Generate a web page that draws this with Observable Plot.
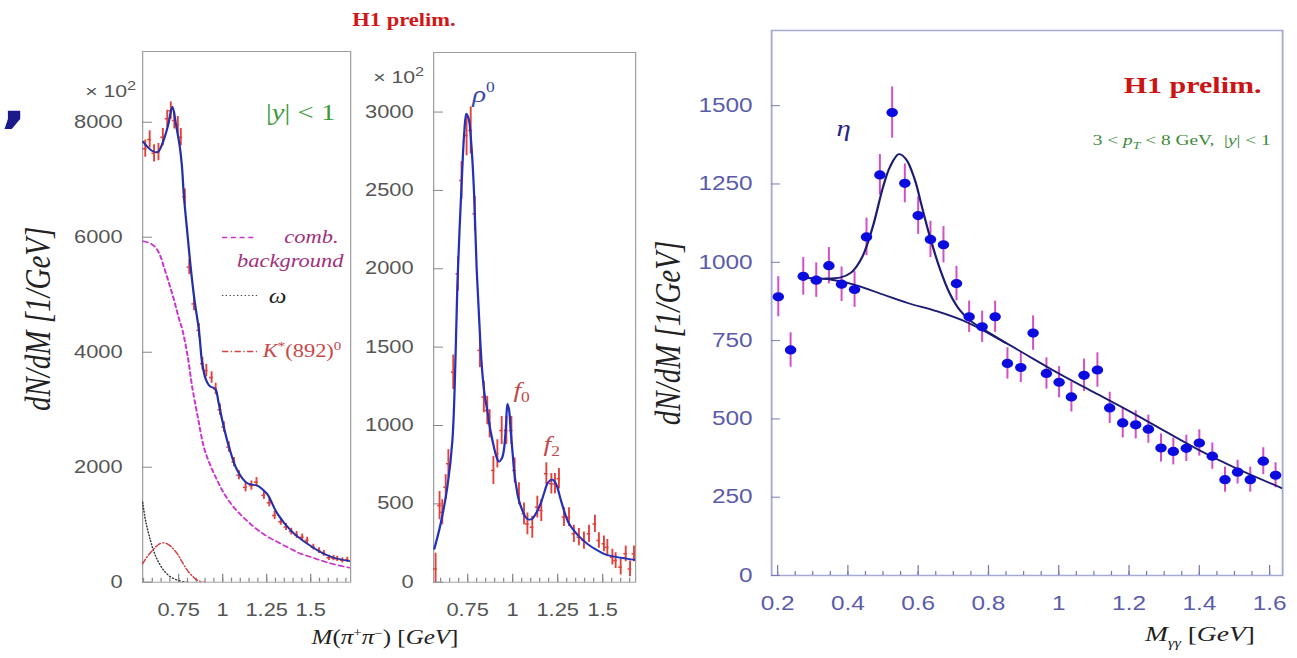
<!DOCTYPE html>
<html><head><meta charset="utf-8">
<script src="https://cdn.jsdelivr.net/npm/d3@7"></script>
<script src="https://cdn.jsdelivr.net/npm/@observablehq/plot@0.6"></script>
<style>
html,body{margin:0;padding:0;background:#fff;overflow:hidden;width:1297px;height:658px;}
#stage{position:absolute;left:0;top:0;width:1037.6px;height:658px;transform:scaleX(1.25);transform-origin:0 0;}
.panel{position:absolute;top:0;}
.ttl{position:absolute;white-space:nowrap;font-family:"Liberation Serif","Times New Roman",serif;line-height:1;}
</style></head>
<body><div id="stage"></div>
<script>
// ---------------- Panel 1 : M(pi+pi-) full spectrum ----------------
const p1XTicks = [0.75, 1, 1.25, 1.5];
const p1YTicks = [0, 2000, 4000, 6000, 8000];
const p1X = [0.56, 0.585, 0.61, 0.635, 0.66, 0.685, 0.705, 0.725, 0.745, 0.762, 0.785, 0.81, 0.837, 0.865, 0.885, 0.907, 0.937, 0.96, 0.985, 1.007, 1.035, 1.064, 1.092, 1.13, 1.163, 1.192, 1.234, 1.265, 1.295, 1.33, 1.36, 1.39, 1.42, 1.452, 1.48, 1.515, 1.547, 1.575, 1.604, 1.63, 1.651, 1.68, 1.708];
const p1Y = [7540, 7700, 7460, 7480, 7740, 8060, 8200, 8030, 7950, 7740, 6700, 5480, 4840, 4380, 3800, 3680, 3560, 3360, 3000, 2700, 2350, 2090, 1860, 1650, 1680, 1740, 1510, 1380, 1160, 1050, 960, 880, 820, 783, 725, 610, 551, 500, 424, 420, 407, 380, 390];
const p1E = [150, 150, 150, 150, 150, 150, 150, 150, 150, 150, 140, 130, 120, 120, 110, 110, 100, 100, 100, 90, 90, 80, 80, 80, 80, 80, 70, 70, 70, 60, 60, 60, 60, 55, 55, 50, 50, 50, 45, 45, 45, 45, 45];
const p1FitX = [0.548, 0.57, 0.6, 0.63, 0.66, 0.69, 0.714, 0.735, 0.755, 0.768, 0.78, 0.8, 0.818, 0.84, 0.865, 0.884, 0.905, 0.93, 0.95, 0.962, 0.975, 0.998, 1.036, 1.083, 1.14, 1.197, 1.225, 1.254, 1.311, 1.387, 1.48, 1.575, 1.632, 1.723];
const p1FitY = [7660, 7580, 7500, 7480, 7650, 7950, 8270, 7950, 7600, 7250, 6700, 6050, 5480, 4900, 4380, 3800, 3520, 3400, 3380, 3340, 3150, 2810, 2350, 1945, 1720, 1680, 1620, 1530, 1190, 900, 670, 495, 425, 365];
const p1BkgX = [0.548, 0.562, 0.59, 0.619, 0.645, 0.666, 0.695, 0.724, 0.75, 0.77, 0.8, 0.827, 0.86, 0.893, 0.93, 0.969, 1.01, 1.064, 1.12, 1.178, 1.24, 1.311, 1.38, 1.44, 1.5, 1.556, 1.62, 1.723];
const p1BkgY = [5930, 5920, 5890, 5820, 5680, 5480, 5200, 4900, 4600, 4400, 3950, 3390, 2850, 2350, 2030, 1770, 1530, 1300, 1120, 960, 820, 700, 590, 500, 440, 380, 320, 250];
const p1OmegaX = [0.545, 0.557, 0.57, 0.59, 0.607, 0.63, 0.666, 0.7, 0.724, 0.76, 0.8];
const p1OmegaY = [1391, 1150, 957, 720, 551, 380, 203, 100, 59, 20, 0];
const p1KstarX = [0.545, 0.57, 0.6, 0.625, 0.647, 0.665, 0.685, 0.71, 0.742, 0.77, 0.8, 0.83, 0.857, 0.9];
const p1KstarY = [320, 440, 551, 630, 678, 685, 667, 610, 494, 350, 203, 100, 30, 0];

// ---------------- Panel 2 : M(pi+pi-) background subtracted ----------------
const p2XTicks = [0.75, 1, 1.25, 1.5];
const p2YTicks = [0, 500, 1000, 1500, 2000, 2500, 3000];
const p2X = [0.572, 0.594, 0.609, 0.628, 0.643, 0.67, 0.696, 0.716, 0.744, 0.767, 0.79, 0.818, 0.84, 0.859, 0.872, 0.893, 0.915, 0.939, 0.965, 0.993, 1.011, 1.035, 1.063, 1.082, 1.109, 1.137, 1.159, 1.187, 1.215, 1.235, 1.257, 1.285, 1.313, 1.34, 1.368, 1.396, 1.424, 1.457, 1.479, 1.507, 1.526, 1.554, 1.572, 1.6, 1.628, 1.652, 1.674];
const p2Y = [85, 489, 447, 606, 756, 1340, 1968, 2563, 2851, 2883, 2351, 1479, 1181, 1096, 1011, 713, 819, 968, 968, 968, 713, 564, 436, 372, 351, 479, 458, 692, 628, 628, 660, 415, 415, 309, 287, 266, 309, 372, 266, 245, 223, 160, 138, 96, 181, 85, 181];
const p2E = [100, 90, 80, 80, 90, 110, 110, 120, 130, 150, 110, 110, 100, 90, 90, 90, 90, 90, 90, 90, 80, 70, 70, 70, 70, 70, 70, 70, 65, 65, 65, 60, 60, 55, 55, 55, 55, 55, 50, 50, 50, 50, 50, 50, 50, 50, 50];
const p2FitX = [0.565, 0.6, 0.637, 0.665, 0.683, 0.693, 0.705, 0.717, 0.73, 0.743, 0.757, 0.77, 0.785, 0.8, 0.813, 0.822, 0.832, 0.845, 0.859, 0.878, 0.896, 0.91, 0.924, 0.94, 0.952, 0.963, 0.971, 0.98, 0.989, 1.0, 1.008, 1.02, 1.035, 1.055, 1.072, 1.09, 1.109, 1.13, 1.155, 1.175, 1.192, 1.208, 1.22, 1.235, 1.248, 1.265, 1.285, 1.31, 1.34, 1.375, 1.415, 1.46, 1.507, 1.55, 1.6, 1.64, 1.68];
const p2FitY = [213, 373, 606, 900, 1450, 1900, 2250, 2550, 2850, 2990, 2950, 2800, 2500, 2000, 1700, 1500, 1330, 1190, 1096, 960, 862, 800, 770, 790, 850, 1000, 1138, 1100, 968, 820, 713, 610, 521, 455, 415, 400, 405, 440, 500, 570, 628, 650, 654, 640, 606, 535, 458, 380, 330, 285, 245, 210, 181, 166, 156, 149, 143];

// ---------------- Panel 3 : M(gamma gamma) ----------------
const p3XTicks = [0.2, 0.4, 0.6, 0.8, 1, 1.2, 1.4, 1.6];
const p3YTicks = [0, 250, 500, 750, 1000, 1250, 1500];
const p3X = [0.202, 0.237, 0.273, 0.310, 0.346, 0.382, 0.419, 0.453, 0.491, 0.526, 0.562, 0.600, 0.635, 0.672, 0.709, 0.745, 0.782, 0.819, 0.854, 0.892, 0.927, 0.965, 1.001, 1.036, 1.072, 1.110, 1.145, 1.182, 1.219, 1.255, 1.291, 1.326, 1.363, 1.400, 1.437, 1.473, 1.509, 1.545, 1.582, 1.617];
const p3Y = [890, 720, 955, 943, 989, 930, 913, 1081, 1279, 1478, 1252, 1149, 1073, 1056, 932, 826, 794, 826, 677, 664, 774, 645, 617, 570, 639, 656, 535, 487, 481, 467, 407, 396, 406, 423, 381, 306, 330, 306, 365, 320];
const p3E = [64, 55, 60, 55, 58, 55, 57, 60, 65, 82, 62, 60, 58, 58, 55, 50, 50, 50, 50, 48, 55, 50, 50, 48, 52, 55, 50, 48, 45, 45, 45, 43, 42, 42, 42, 40, 38, 40, 43, 40];
const p3BkgX = [0.27, 0.3, 0.35, 0.42, 0.5, 0.57, 0.655, 0.74, 0.85, 1.0, 1.1, 1.2, 1.3, 1.4, 1.5, 1.637];
const p3BkgY = [950, 949, 945, 928, 897, 870, 843, 808, 742, 645, 585, 525, 462, 400, 345, 278];
const p3SigX = [0.27, 0.33, 0.38, 0.41, 0.44, 0.47, 0.5, 0.52, 0.545, 0.565, 0.59, 0.61, 0.63, 0.66, 0.69, 0.72, 0.75, 0.78, 0.85];
const p3SigY = [950, 948, 952, 968, 1015, 1110, 1240, 1305, 1345, 1330, 1265, 1180, 1095, 985, 900, 845, 812, 790, 742];

// ---------------- layout helpers ----------------
const K = 1.25;   // horizontal stretch of the original image
const H = 658;
const stage = document.getElementById("stage");
const zip = (xs, ys) => xs.map((x, i) => ({x, y: ys[i]}));
const pts = (xs, ys, es) => xs.map((x, i) => ({x, y: ys[i], e: es[i]}));

function geom(left, right, fl, fr, ft, fb) {
  return {left, width: (right - left) / K, marginLeft: (fl - left) / K, marginRight: (right - fr) / K,
    marginTop: ft, marginBottom: H - fb, innerW: (fr - fl) / K, innerH: fb - ft};
}
function place(svg, g) {
  const d = document.createElement("div");
  d.className = "panel";
  d.style.left = (g.left / K) + "px";
  d.appendChild(svg);
  stage.appendChild(d);
}
function range(a, b, s) { const r = []; for (let v = a; v <= b + 1e-9; v += s) r.push(Math.round(v * 1000) / 1000); return r; }
function ticks(g, xMajor, xMinor, yMajor, stroke, lenMaj, lenMin, lenY) {
  return [
    Plot.tickX(xMinor, {x: d => d, insetTop: g.innerH - lenMin, stroke, strokeWidth: 1}),
    Plot.tickX(xMajor, {x: d => d, insetTop: g.innerH - lenMaj, stroke, strokeWidth: 1}),
    Plot.tickY(yMajor, {y: d => d, insetRight: g.innerW - lenY / K, stroke, strokeWidth: 1})
  ];
}
function rich(svg, content, parts) {
  d3.select(svg).selectAll("text").filter(function () { return this.textContent === content; })
    .each(function () {
      const el = d3.select(this); el.text(null);
      let shift = 0;
      for (const p of parts) {
        const ts = el.append("tspan").text(p.t).attr("font-style", p.it ? "italic" : "normal");
        if (p.size) ts.attr("font-size", p.size);
        const target = p.shift || 0;
        if (target !== shift) { ts.attr("dy", target - shift); shift = target; }
      }
    });
}
const SERIF = "'Liberation Serif','Times New Roman',serif";
const SANS = "'Liberation Sans',Arial,sans-serif";
const RED = "#e2403a";
const fmt = d => String(d);
const X102 = "× 10 2";
const x102parts = [{t: "× 10"}, {t: "2", size: 13, shift: -7}];

// ---------------- Panel 1 ----------------
const g1 = geom(0, 360, 142, 350, 51, 581.7);
const plot1 = Plot.plot({
  width: g1.width, height: H, marginLeft: g1.marginLeft, marginRight: g1.marginRight,
  marginTop: g1.marginTop, marginBottom: g1.marginBottom,
  x: {domain: [0.545, 1.727]}, y: {domain: [0, 9230]},
  style: {fontFamily: SANS, fontSize: "17.5px", background: "transparent", overflow: "visible"},
  marks: [
    Plot.frame({stroke: "#a0a0a0"}),
    ...ticks(g1, [0.75, 1, 1.25, 1.5], range(0.55, 1.7, 0.05), p1YTicks, "#888", 8, 4, 10),
    Plot.axisX({ticks: p1XTicks, tickSize: 0, tickPadding: 21, tickFormat: fmt, fontSize: 17.5, fill: "#555", label: null}),
    Plot.axisY({ticks: p1YTicks, tickSize: 0, tickPadding: 20 / K, tickFormat: fmt, fontSize: 17.5, fill: "#555", label: null}),
    Plot.line(zip(p1BkgX, p1BkgY), {x: "x", y: "y", stroke: "#cc33cc", strokeWidth: 1.6, strokeDasharray: "4,3", curve: "catmull-rom", clip: true}),
    Plot.line(zip(p1OmegaX, p1OmegaY), {x: "x", y: "y", stroke: "#333", strokeWidth: 1.2, strokeDasharray: "1,2", curve: "catmull-rom", clip: true}),
    Plot.line(zip(p1KstarX, p1KstarY), {x: "x", y: "y", stroke: "#d04040", strokeWidth: 1.3, strokeDasharray: "5,2,1,2", curve: "catmull-rom", clip: true}),
    Plot.ruleX(pts(p1X, p1Y, p1E), {x: "x", y1: d => d.y - d.e, y2: d => d.y + d.e, stroke: RED, strokeWidth: 1.5, clip: true}),
    Plot.ruleY(pts(p1X, p1Y, p1E), {y: "y", x1: d => d.x - 0.011, x2: d => d.x + 0.011, stroke: RED, strokeWidth: 1.5, clip: true}),
    Plot.line(zip(p1FitX, p1FitY), {x: "x", y: "y", stroke: "#2430a8", strokeWidth: 1.8, curve: "catmull-rom", clip: true}),
    // legend keys
    Plot.ruleY([{y: 5995, x1: 1.0, x2: 1.198}], {y: "y", x1: "x1", x2: "x2", stroke: "#cc33cc", strokeWidth: 1.6, strokeDasharray: "4,3"}),
    Plot.ruleY([{y: 4986, x1: 1.0, x2: 1.198}], {y: "y", x1: "x1", x2: "x2", stroke: "#333", strokeWidth: 1.2, strokeDasharray: "1,2"}),
    Plot.ruleY([{y: 4012, x1: 1.0, x2: 1.198}], {y: "y", x1: "x1", x2: "x2", stroke: "#d04040", strokeWidth: 1.3, strokeDasharray: "5,2,1,2"}),
    Plot.text([{t: "comb.", x: 1.659, y: 5995}, {t: "background", x: 1.687, y: 5577}], {x: "x", y: "y", text: "t", textAnchor: "end", fontFamily: SERIF, fontStyle: "italic", fontSize: 18, fill: "#a3307a"}),
    Plot.text([{t: "ω", x: 1.312, y: 4969}], {x: "x", y: "y", text: "t", fontFamily: SERIF, fontStyle: "italic", fontSize: 20, fill: "#222"}),
    Plot.text([{t: "K*(892)0", x: 1.227, y: 4012}], {x: "x", y: "y", text: "t", textAnchor: "start", fontFamily: SERIF, fontSize: 18, fill: "#c84848"}),
    Plot.text([{t: "|y| < 1", x: 1.443, y: 8169}], {x: "x", y: "y", text: "t", fontFamily: SERIF, fontSize: 23, fill: "#3c9a3c"}),
    Plot.text([X102], {text: d => d, frameAnchor: "top-left", textAnchor: "middle", dx: -32 / K, dy: 33, fontSize: 17, fill: "#555"}),
    Plot.text(["dN/dM [1/GeV]"], {text: d => d, frameAnchor: "left", textAnchor: "middle", rotate: -90, dx: (38 - 142) / K, dy: 2, fontFamily: SERIF, fontStyle: "italic", fontSize: 29, fill: "#222"})
  ]
});
rich(plot1, "K*(892)0", [{t: "K", it: true}, {t: "*", size: 12, shift: -7}, {t: "(892)", shift: 0}, {t: "0", size: 12, shift: -7}]);
rich(plot1, "|y| < 1", [{t: "|"}, {t: "y", it: true}, {t: "| < 1"}]);
rich(plot1, X102, x102parts);
place(plot1, g1);

// ---------------- Panel 2 ----------------
const g2 = geom(360, 650, 433, 635, 52, 581.7);
const plot2 = Plot.plot({
  width: g2.width, height: H, marginLeft: g2.marginLeft, marginRight: g2.marginRight,
  marginTop: g2.marginTop, marginBottom: g2.marginBottom,
  x: {domain: [0.561, 1.683]}, y: {domain: [0, 3380]},
  style: {fontFamily: SANS, fontSize: "17.5px", background: "transparent", overflow: "visible"},
  marks: [
    Plot.frame({stroke: "#a0a0a0"}),
    ...ticks(g2, [0.75, 1, 1.25, 1.5], range(0.6, 1.65, 0.05), p2YTicks, "#888", 8, 4, 10),
    Plot.axisX({ticks: p2XTicks, tickSize: 0, tickPadding: 21, tickFormat: fmt, fontSize: 17.5, fill: "#555", label: null}),
    Plot.axisY({ticks: p2YTicks, tickSize: 0, tickPadding: 20 / K, tickFormat: fmt, fontSize: 17.5, fill: "#555", label: null}),
    Plot.ruleX(pts(p2X, p2Y, p2E), {x: "x", y1: d => d.y - d.e, y2: d => d.y + d.e, stroke: RED, strokeWidth: 1.5, clip: true}),
    Plot.ruleY(pts(p2X, p2Y, p2E), {y: "y", x1: d => d.x - 0.01, x2: d => d.x + 0.01, stroke: RED, strokeWidth: 1.5, clip: true}),
    Plot.line(zip(p2FitX, p2FitY), {x: "x", y: "y", stroke: "#2430b8", strokeWidth: 1.8, curve: "catmull-rom", clip: true}),
    Plot.text([{t: "rho0", x: 0.838, y: 3110}], {x: "x", y: "y", text: "t", fontFamily: SERIF, fontSize: 23, fill: "#3848a8"}),
    Plot.text([{t: "f0", x: 1.05, y: 1224}, {t: "f2", x: 1.217, y: 879}], {x: "x", y: "y", text: "t", fontFamily: SERIF, fontSize: 22, fill: "#c04a4a"}),
    Plot.text([X102], {text: d => d, frameAnchor: "top-left", textAnchor: "middle", dx: -35 / K, dy: 18, fontSize: 17, fill: "#555"})
  ]
});
rich(plot2, "rho0", [{t: "ρ", it: true}, {t: "0", size: 14, shift: -10}]);
rich(plot2, "f0", [{t: "f", it: true}, {t: "0", size: 14, shift: 5}]);
rich(plot2, "f2", [{t: "f", it: true}, {t: "2", size: 14, shift: 5}]);
rich(plot2, X102, x102parts);
place(plot2, g2);

// ---------------- Panel 3 ----------------
const g3 = geom(650, 1297, 771, 1282, 30, 575);
const PT = "3 < pT < 8 GeV, |y| < 1";
const plot3 = Plot.plot({
  width: g3.width, height: H, marginLeft: g3.marginLeft, marginRight: g3.marginRight,
  marginTop: g3.marginTop, marginBottom: g3.marginBottom,
  x: {domain: [0.183, 1.637]}, y: {domain: [0, 1740]},
  style: {fontFamily: SANS, fontSize: "19.5px", background: "transparent", overflow: "visible"},
  marks: [
    Plot.frame({stroke: "#a8a8d4", strokeWidth: 1.5}),
    ...ticks(g3, p3XTicks, range(0.2, 1.6, 0.05), p3YTicks, "#7a7ab0", 10, 4, 9),
    Plot.axisX({ticks: p3XTicks, tickSize: 0, tickPadding: 21, tickFormat: fmt, fontSize: 19.5, fill: "#5b5bab", label: null}),
    Plot.axisY({ticks: p3YTicks, tickSize: 0, tickPadding: 19 / K, tickFormat: fmt, fontSize: 19.5, fill: "#5b5bab", label: null}),
    Plot.ruleX(pts(p3X, p3Y, p3E), {x: "x", y1: d => d.y - d.e, y2: d => d.y + d.e, stroke: "#d050c8", strokeWidth: 1.6}),
    Plot.line(zip(p3BkgX, p3BkgY), {x: "x", y: "y", stroke: "#1c1c72", strokeWidth: 1.8, curve: "catmull-rom", clip: true}),
    Plot.line(zip(p3SigX, p3SigY), {x: "x", y: "y", stroke: "#1c1c72", strokeWidth: 1.8, curve: "catmull-rom", clip: true}),
    Plot.dot(pts(p3X, p3Y, p3E), {x: "x", y: "y", r: 4.6, fill: "#0b0be0", stroke: "none"}),
    Plot.text([{t: "η", x: 0.388, y: 1426}], {x: "x", y: "y", text: "t", fontFamily: SERIF, fontStyle: "italic", fontSize: 23, fill: "#24248a"}),
    Plot.text([{t: "H1 prelim.", x: 1.381, y: 1566}], {x: "x", y: "y", text: "t", fontFamily: SERIF, fontWeight: "bold", fontSize: 24, fill: "#cc1414"}),
    Plot.text([{t: PT, x: 1.35, y: 1391}], {x: "x", y: "y", text: "t", fontFamily: SERIF, fontSize: 15.5, fill: "#3a8a3a"}),
    Plot.text(["dN/dM [1/GeV]"], {text: d => d, frameAnchor: "left", textAnchor: "middle", rotate: -90, dx: (668 - 771) / K, dy: 30, fontFamily: SERIF, fontStyle: "italic", fontSize: 29, fill: "#222"})
  ]
});
rich(plot3, PT, [{t: "3 < "}, {t: "p", it: true}, {t: "T", it: true, size: 11, shift: 4}, {t: " < 8 GeV,  |", shift: 0}, {t: "y", it: true}, {t: "| < 1"}]);
place(plot3, g3);

// ---------------- titles outside the plots ----------------
function ttl(html, cx, cy, css) {
  const d = document.createElement("div");
  d.className = "ttl";
  d.innerHTML = html;
  d.style.left = (cx / K) + "px";
  d.style.top = cy + "px";
  d.style.transform = "translate(-50%,-50%)";
  Object.assign(d.style, css);
  stage.appendChild(d);
}
ttl("H1 prelim.", 404, 20, {fontWeight: "bold", fontSize: "18px", color: "#d01818"});
ttl("<i>M</i>(<i>π</i><sup style='font-size:12px'>+</sup><i>π</i><sup style='font-size:12px'>−</sup>) [<i>GeV</i>]", 385, 637, {fontSize: "20px", color: "#222"});
ttl("<i>M</i><sub style='font-size:13px'><i>γγ</i></sub> [<i>GeV</i>]", 1200, 636, {fontSize: "22px", color: "#222"});
ttl(",", 14, 102, {fontFamily: "'DejaVu Sans',sans-serif", fontWeight: "bold", fontSize: "56px", color: "#1a1a8a"});
</script></body></html>
